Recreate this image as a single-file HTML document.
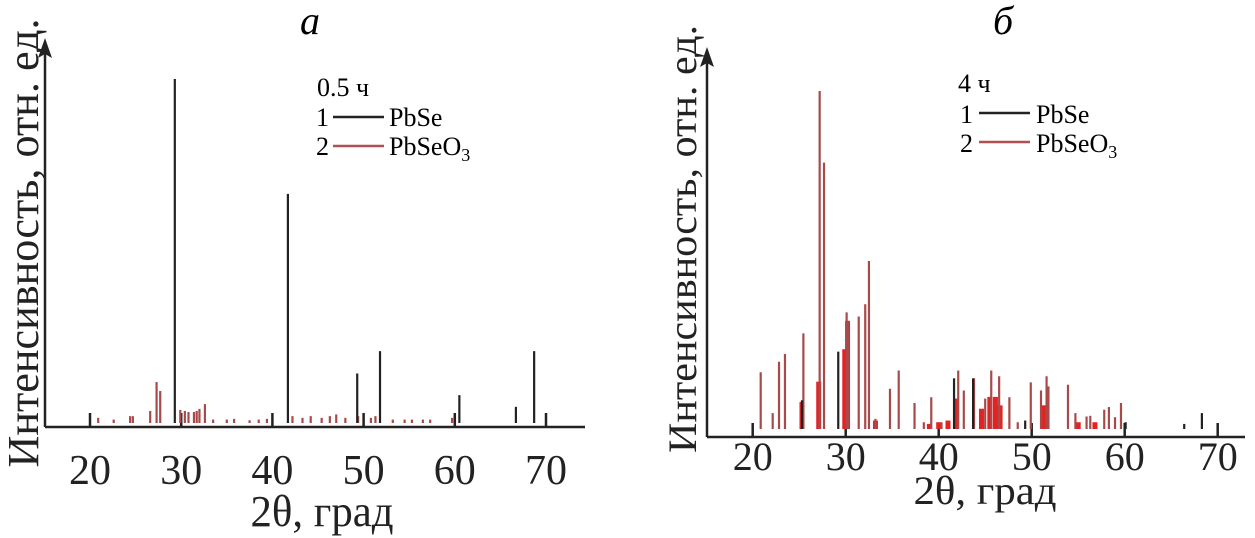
<!DOCTYPE html>
<html><head><meta charset="utf-8"><style>
body{margin:0;background:#fff}
svg{display:block;font-family:"Liberation Serif",serif}
</style></head><body>
<svg id="chart" width="1255" height="538" viewBox="0 0 1255 538">
<g id="pa">
<text x="310" y="34" font-size="40" font-style="italic" text-anchor="middle">a</text>
<text transform="translate(38,243) rotate(-90)" font-size="44" text-anchor="middle" textLength="449" lengthAdjust="spacingAndGlyphs" fill="#222">Интенсивность, отн. ед.</text>
<text x="322" y="526" font-size="44" text-anchor="middle" textLength="143" lengthAdjust="spacingAndGlyphs" fill="#222">2θ, град</text>
<g>
<text x="317" y="96" font-size="26">0.5 ч</text>
<text x="316" y="126" font-size="26">1</text>
<line x1="333" y1="117" x2="384" y2="117" stroke="#222" stroke-width="2.5"/>
<text x="389" y="126" font-size="26">PbSe</text>
<text x="316" y="155" font-size="26">2</text>
<line x1="333" y1="146" x2="384" y2="146" stroke="#b05050" stroke-width="2.5"/>
<text x="389" y="155" font-size="26">PbSeO<tspan font-size="18" dy="6">3</tspan></text>
</g>
</g>
<g id="pb">
<text x="1003" y="34" font-size="40" font-style="italic" text-anchor="middle">б</text>
<text transform="translate(696,239) rotate(-90)" font-size="40" text-anchor="middle" textLength="428" lengthAdjust="spacingAndGlyphs" fill="#222">Интенсивность, отн. ед.</text>
<text x="985" y="504" font-size="40" text-anchor="middle" textLength="143" lengthAdjust="spacingAndGlyphs" fill="#222">2θ, град</text>
<g>
<text x="958" y="92" font-size="26">4 ч</text>
<text x="960" y="123" font-size="26">1</text>
<line x1="979" y1="113" x2="1030" y2="113" stroke="#222" stroke-width="2.5"/>
<text x="1036" y="123" font-size="26">PbSe</text>
<text x="960" y="152" font-size="26">2</text>
<line x1="979" y1="142" x2="1030" y2="142" stroke="#b05050" stroke-width="2.5"/>
<text x="1036" y="152" font-size="26">PbSeO<tspan font-size="18" dy="6">3</tspan></text>
</g>
</g>
</svg>
<script>
const ticks=[20,30,40,50,60,70];
const aPbSeDeg=[29.3,41.7,49.3,51.8,60.5,66.7,68.7];
const aPbSeInt=[100,66.6,14.4,20.9,8.1,4.7,20.9];
const aOxDeg=[20.9,22.6,24.4,24.7,26.6,27.3,27.7,29.9,30.4,30.8,31.4,31.7,32.0,32.6,33.5,35.0,35.8,37.5,38.5,39.4,42.2,43.3,44.2,45.4,46.3,47.0,48.0,49.4,50.8,51.3,53.2,54.5,55.3,56.5,57.3,59.7];
const aOxInt=[1.5,1,2,2,3.5,11.9,9.3,3.8,3.5,3.2,3.2,3.5,4.1,5.5,1,1,1.2,0.8,1,1.2,2,1.5,2,1.5,2,2.5,1.5,2,1.5,2,1,1,1,1,1,1.5];
const bPbSeDeg=[25.3,29.2,41.65,43.7,49.3,60.1,66.4,68.3];
const bPbSeInt=[8.5,22.9,15,15,2.5,2,1.5,4.7];
const bOxDeg=[20.86,22.15,22.83,23.47,25.45,27.2,27.67,30.1,30.3,31.4,32.1,32.5,33.2,34.76,35.7,37.4,38.4,39.2,40.3,42.1,42.7,43.8,45.0,45.65,46.5,47.6,48.5,49.9,51.0,51.6,51.8,53.9,54.7,55.9,56.3,57.8,58.3,58.96,59.6];
const bOxInt=[16.8,4.7,19.9,22.2,28.3,100,78.8,34.5,32,33.3,36.9,49.7,3,11.9,17.3,7.7,2,9.4,2,17.3,11.4,15,9,17.3,15.6,9.4,2,13.8,11.4,15.6,12.6,13.1,4.7,3.7,3.9,5.7,6.5,3.5,7.7];
const bFillDeg=[25.3,27.1,29.9,30.2,33.2,39.0,40.0,41.0,41.9,44.6,45.5,46.1,46.6,51.3,55.0,56.8];
const bFillInt=[8,14,23.6,32,2.5,1.5,2,2.5,9,6,9.5,9.5,7,7,2,2];
const NS='http://www.w3.org/2000/svg';
const svg=document.getElementById('chart');
function mk(t,a,p){const e=document.createElementNS(NS,t);for(const k in a)e.setAttribute(k,a[k]);(p||svg).appendChild(e);return e;}
function panel(g,o,pbDeg,pbInt,oxDeg,oxInt,fDeg,fInt){
  const X=d=>o.x0+(d-20)*o.px;
  const Y=v=>o.base-v*o.h/100;
  const ya=mk('line',{x1:o.ax,y1:o.axisY,x2:o.ax,y2:o.top+12,stroke:'#222','stroke-width':2.5},g);
  
  
  const ah=mk('polygon',{points:`${o.ax},${o.top} ${o.ax-7},${o.top+20} ${o.ax},${o.top+16} ${o.ax+7},${o.top+20}`,fill:'#222'},g);
  
  
  const xa=mk('line',{x1:o.ax,y1:o.axisY,x2:o.right,y2:o.axisY,stroke:'#222','stroke-width':2.5},g);
  
  
  ticks.forEach(t=>{
    const tk=mk('line',{x1:X(t),y1:o.axisY,x2:X(t),y2:o.axisY-14,stroke:'#222','stroke-width':2.5},g);
    
    
    const tl=mk('text',{x:X(t),y:o.labY,'font-size':o.fs,'text-anchor':'middle',fill:'#222'},g);
    tl.textContent=t;
    
    
  });
  if(fDeg) fDeg.forEach((d,i)=>{
    const r=mk('rect',{x:X(d)-2.5,y:Y(fInt[i]),width:5,height:o.base-Y(fInt[i]),fill:'#e52222'},g);
    
    
  });
  oxDeg.forEach((d,i)=>{
    const l=mk('line',{x1:X(d),y1:o.base,x2:X(d),y2:Y(oxInt[i]),stroke:'#a84a4a','stroke-width':2.2},g);
    
    
  });
  pbDeg.forEach((d,i)=>{
    const l=mk('line',{x1:X(d),y1:o.base,x2:X(d),y2:Y(pbInt[i]),stroke:'#222','stroke-width':2.2},g);
    
    
  });
}
panel(document.getElementById('pa'),{x0:90,px:9.12,base:423,h:344,ax:45,axisY:427,top:38,right:585,labY:484,fs:42},aPbSeDeg,aPbSeInt,aOxDeg,aOxInt,null,null);
panel(document.getElementById('pb'),{x0:752.7,px:9.3,base:429,h:338,ax:707,axisY:437,top:47,right:1245,labY:470,fs:40},bPbSeDeg,bPbSeInt,bOxDeg,bOxInt,bFillDeg,bFillInt);
</script>
</body></html>
